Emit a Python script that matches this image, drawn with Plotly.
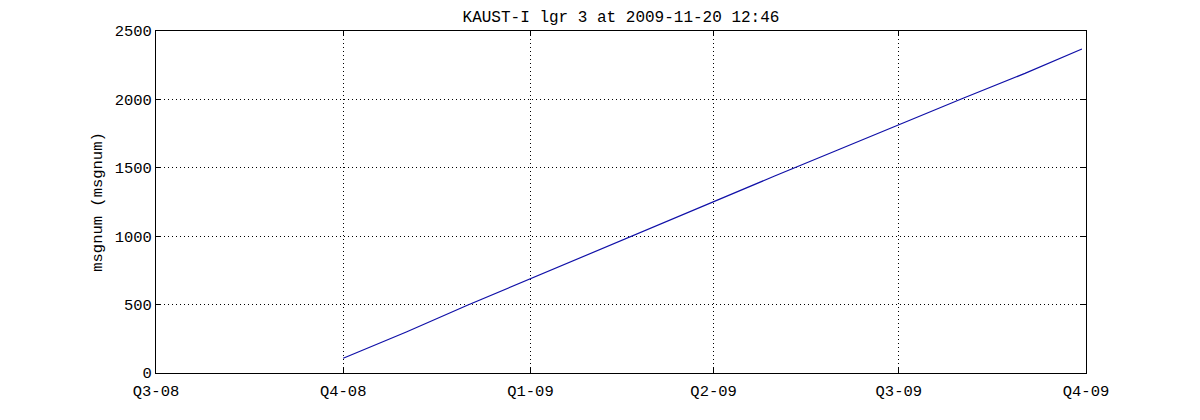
import plotly.graph_objects as go

dates = ["2008-10-01", "2008-11-01", "2008-12-01", "2009-01-01", "2009-02-01",
         "2009-03-01", "2009-04-01", "2009-05-01", "2009-06-01", "2009-07-01",
         "2009-08-01", "2009-09-01", "2009-09-29"]
msgnum = [108, 300, 495, 690, 885, 1060, 1255, 1440, 1630, 1815, 2005, 2190, 2368]

tick_dates = ["2008-07-01", "2008-10-01", "2009-01-01", "2009-04-01", "2009-07-01", "2009-10-01"]
tick_labels = ["Q3-08", "Q4-08", "Q1-09", "Q2-09", "Q3-09", "Q4-09"]
y_ticks = [0, 500, 1000, 1500, 2000, 2500]

FONT = "Liberation Mono, Courier New, monospace"

fig = go.Figure()
fig.add_trace(go.Scatter(x=dates, y=msgnum, mode="lines",
                         line=dict(color="#1010a8", width=1.2), showlegend=False))

axis_common = dict(showline=True, linecolor="black", linewidth=1, mirror="ticks",
                   ticks="inside", ticklen=5, tickcolor="black",
                   showgrid=True, gridcolor="black", griddash="1px,3px", gridwidth=1,
                   zeroline=False, tickfont=dict(family=FONT, size=15.5, color="black"))

fig.update_layout(
    width=1200, height=420,
    margin=dict(l=148, r=122, t=23, b=55),
    paper_bgcolor="white", plot_bgcolor="white",
    title=dict(text="KAUST-I lgr 3 at 2009-11-20 12:46", xref="paper", x=0.5,
               xanchor="center", y=1 - 8 / 420, yanchor="middle",
               font=dict(family=FONT, size=16, color="black")),
    xaxis=dict(range=["2008-07-01", "2009-10-01"], tickmode="array",
               tickvals=tick_dates, ticktext=tick_labels, ticklabelstandoff=3,
               **axis_common),
    yaxis=dict(range=[0, 2500], tickmode="array", tickvals=y_ticks,
               ticktext=[str(v) for v in y_ticks],
               title=dict(text="msgnum (msgnum)", font=dict(family=FONT, size=15.5, color="black"),
                          standoff=8),
               **axis_common),
)

fig.write_html("out.html")
